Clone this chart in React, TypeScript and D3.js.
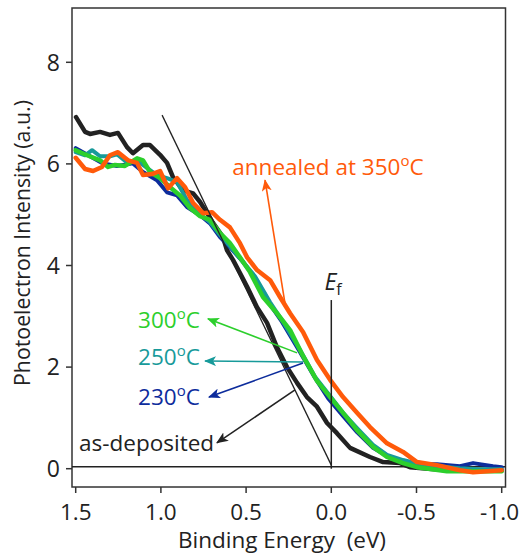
import * as d3 from "d3";

// binding energy (eV) / intensity pairs
const asDeposited: [number, number][] = [
  [1.498, 6.92], [1.445, 6.63], [1.416, 6.59], [1.357, 6.63], [1.299, 6.57], [1.252, 6.61],
  [1.199, 6.33], [1.164, 6.21], [1.105, 6.37], [1.064, 6.37], [1.005, 6.18], [0.964, 6.02],
  [0.929, 5.74], [0.87, 5.48], [0.811, 5.42], [0.77, 5.25], [0.729, 5.03], [0.694, 4.84],
  [0.636, 4.56], [0.612, 4.3], [0.577, 4.11], [0.536, 3.85], [0.494, 3.58], [0.436, 3.18],
  [0.377, 2.87], [0.319, 2.39], [0.26, 2.0], [0.201, 1.69], [0.143, 1.41], [0.084, 1.22],
  [0.025, 0.9], [-0.033, 0.7], [-0.11, 0.41], [-0.227, 0.23], [-0.304, 0.13], [-0.403, 0.11],
  [-0.462, 0.03], [-0.679, -0.03], [-1.0, -0.03],
];

const t230: [number, number][] = [
  [1.5, 6.31], [1.395, 6.11], [1.34, 6.01], [1.258, 5.96], [1.164, 6.01], [1.105, 5.84],
  [1.023, 5.68], [0.964, 5.44], [0.905, 5.38], [0.847, 5.15], [0.77, 4.99], [0.712, 4.83],
  [0.653, 4.56], [0.595, 4.36], [0.518, 4.07], [0.46, 3.81], [0.377, 3.32], [0.289, 2.89],
  [0.184, 2.3], [0.096, 1.79], [0.019, 1.39], [-0.069, 1.04], [-0.151, 0.72], [-0.245, 0.41],
  [-0.327, 0.25], [-0.421, 0.15], [-0.521, 0.09], [-0.62, 0.09], [-0.755, 0.05], [-0.832, 0.11],
  [-0.949, 0.05], [-1.0, 0.03],
];

const t250: [number, number][] = [
  [1.5, 6.23], [1.445, 6.17], [1.404, 6.27], [1.357, 6.15], [1.299, 6.15], [1.258, 6.19],
  [1.199, 6.03], [1.14, 6.07], [1.082, 5.92], [1.023, 5.78], [0.964, 5.72], [0.905, 5.64],
  [0.847, 5.29], [0.77, 5.01], [0.712, 4.85], [0.653, 4.6], [0.595, 4.38], [0.518, 4.07],
  [0.448, 3.79], [0.36, 3.28], [0.283, 2.89], [0.184, 2.34], [0.096, 1.81], [0.007, 1.43],
  [-0.069, 1.1], [-0.151, 0.8], [-0.245, 0.47], [-0.327, 0.27], [-0.421, 0.17], [-0.521, 0.09],
  [-0.62, 0.05], [-0.755, 0.01], [-0.873, -0.01], [-1.0, -0.01],
];

const t300: [number, number][] = [
  [1.5, 6.27], [1.433, 6.17], [1.357, 6.07], [1.31, 5.94], [1.269, 5.98], [1.211, 5.96],
  [1.14, 6.11], [1.105, 6.07], [1.064, 5.84], [1.005, 5.72], [0.946, 5.54], [0.888, 5.38],
  [0.829, 5.13], [0.77, 4.97], [0.712, 4.9], [0.653, 4.64], [0.595, 4.44], [0.536, 4.16],
  [0.477, 3.87], [0.401, 3.38], [0.319, 3.06], [0.242, 2.73], [0.166, 2.22], [0.084, 1.73],
  [0.007, 1.41], [-0.069, 1.1], [-0.151, 0.76], [-0.245, 0.43], [-0.327, 0.23], [-0.421, 0.11],
  [-0.503, 0.03], [-0.679, -0.05], [-0.832, -0.05], [-1.0, -0.05],
];

const t350: [number, number][] = [
  [1.5, 6.12], [1.445, 5.9], [1.398, 5.86], [1.346, 5.94], [1.299, 6.17], [1.252, 6.23],
  [1.193, 6.07], [1.14, 6.02], [1.105, 5.78], [1.052, 5.8], [1.005, 5.86], [0.958, 5.52],
  [0.905, 5.72], [0.858, 5.54], [0.811, 5.23], [0.753, 5.03], [0.7, 5.05], [0.653, 4.9],
  [0.595, 4.75], [0.536, 4.44], [0.494, 4.16], [0.436, 3.91], [0.359, 3.71], [0.301, 3.38],
  [0.242, 3.06], [0.166, 2.69], [0.084, 2.14], [0.007, 1.75], [-0.069, 1.41], [-0.151, 1.1],
  [-0.227, 0.82], [-0.327, 0.5], [-0.421, 0.33], [-0.503, 0.13], [-0.62, 0.07], [-0.755, -0.03],
  [-0.832, -0.07], [-1.0, -0.03],
];

const xTicks = [1.5, 1.0, 0.5, 0.0, -0.5, -1.0];
const yTicks = [0, 2, 4, 6, 8];

// tangent used for the band-edge extrapolation
const tangent: [number, number][] = [[0.993, 6.96], [0.0, 0.07]];

const series = [
  { name: "as-deposited", color: "#222222", width: 4.5, data: asDeposited },
  { name: "230", color: "#0d2c9c", width: 4, data: t230 },
  { name: "250", color: "#179a9a", width: 4, data: t250 },
  { name: "300", color: "#2ccf2c", width: 4.5, data: t300 },
  { name: "350", color: "#ff5a0a", width: 4.5, data: t350 },
];

// label: [text x, text baseline y], arrow: from curve -> tip (data units)
const labels = [
  { main: "annealed at 350", color: "#ff5a0a", at: [0.581, 5.79], from: [0.272, 3.26], to: [0.389, 5.68], deg: true },
  { main: "300", color: "#2ccf2c", at: [1.134, 2.77], from: [0.201, 2.28], to: [0.724, 2.95], deg: true },
  { main: "250", color: "#179a9a", at: [1.134, 2.04], from: [0.166, 2.1], to: [0.741, 2.12], deg: true },
  { main: "230", color: "#0d2c9c", at: [1.134, 1.25], from: [0.166, 2.08], to: [0.718, 1.41], deg: true },
  { main: "as-deposited", color: "#222222", at: [1.48, 0.35], from: [0.213, 1.55], to: [0.671, 0.51], deg: false },
];

const W = 520;
const H = 556;
const font = "'Open Sans', sans-serif";

export default function App() {
  const x = d3.scaleLinear().domain([1.5, -1.0]).range([75.7, 501.7]);
  const y = d3.scaleLinear().domain([0, 8]).range([468.7, 62.3]);
  const frame = { left: 72, right: 505.5, top: 8, bottom: 487 };

  const line = d3
    .line<[number, number]>()
    .x((d) => x(d[0]))
    .y((d) => y(d[1]));

  return (
    <svg
      width={W}
      height={H}
      style={{ position: "absolute", left: 0, top: 0, background: "#fff" }}
      fontFamily={font}
    >
      <defs>
        {labels.map((l, i) => (
          <marker
            key={i}
            id={`arr${i}`}
            viewBox="0 0 12 10"
            refX="11"
            refY="5"
            markerWidth="12"
            markerHeight="10"
            markerUnits="userSpaceOnUse"
            orient="auto"
          >
            <path d="M0,0 L12,5 L0,10 L3,5 Z" fill={l.color} />
          </marker>
        ))}
      </defs>

      {/* frame */}
      <rect
        x={frame.left}
        y={frame.top}
        width={frame.right - frame.left}
        height={frame.bottom - frame.top}
        fill="none"
        stroke="#333"
        strokeWidth={1.5}
      />

      {/* y ticks */}
      {yTicks.map((t) => (
        <g key={t}>
          <line x1={frame.left - 6} x2={frame.left} y1={y(t)} y2={y(t)} stroke="#333" strokeWidth={1.5} />
          <text x={frame.left - 12} y={y(t)} dy="0.36em" textAnchor="end" fontSize={23} fill="#222">
            {t}
          </text>
        </g>
      ))}

      {/* x ticks */}
      {xTicks.map((t) => (
        <g key={t}>
          <line x1={x(t)} x2={x(t)} y1={frame.bottom} y2={frame.bottom + 6} stroke="#333" strokeWidth={1.5} />
          <text
            x={t === -1.0 ? W - 1 : x(t)}
            y={frame.bottom + 33}
            textAnchor={t === -1.0 ? "end" : "middle"}
            fontSize={22.5}
            fill="#222"
          >
            {t.toFixed(1)}
          </text>
        </g>
      ))}

      {/* zero line */}
      <line x1={frame.left} x2={frame.right} y1={y(0.04)} y2={y(0.04)} stroke="#222" strokeWidth={1.5} />

      {/* curves */}
      {series.map((s) => (
        <path
          key={s.name}
          d={line(s.data) || ""}
          fill="none"
          stroke={s.color}
          strokeWidth={s.width}
          strokeLinejoin="round"
          strokeLinecap="round"
        />
      ))}

      {/* tangent */}
      <path d={line(tangent) || ""} fill="none" stroke="#222" strokeWidth={1.3} />

      {/* Ef marker */}
      <line x1={x(0)} x2={x(0)} y1={y(3.32)} y2={y(0)} stroke="#222" strokeWidth={1.5} />
      <text x={x(0.04)} y={y(3.51)} fontSize={23} fill="#222">
        <tspan fontStyle="italic">E</tspan>
        <tspan fontSize={16} dy={5}>f</tspan>
      </text>

      {/* annotations */}
      {labels.map((l, i) => (
        <g key={i}>
          <line
            x1={x(l.from[0])}
            y1={y(l.from[1])}
            x2={x(l.to[0])}
            y2={y(l.to[1])}
            stroke={l.color}
            strokeWidth={1.6}
            markerEnd={`url(#arr${i})`}
          />
          <text x={x(l.at[0])} y={y(l.at[1])} fontSize={22.5} fill={l.color}>
            {l.main}
            {l.deg && (
              <>
                <tspan fontSize={15} dy={-9}>o</tspan>
                <tspan dy={9}>C</tspan>
              </>
            )}
          </text>
        </g>
      ))}

      {/* axis titles */}
      <text
        transform={`translate(30,243) rotate(-90)`}
        textAnchor="middle"
        fontSize={21.3}
        fill="#222"
      >
        Photoelectron Intensity (a.u.)
      </text>
      <text x={282} y={548} textAnchor="middle" fontSize={22.5} fill="#222" xmlSpace="preserve">
        Binding Energy  (eV)
      </text>
    </svg>
  );
}
